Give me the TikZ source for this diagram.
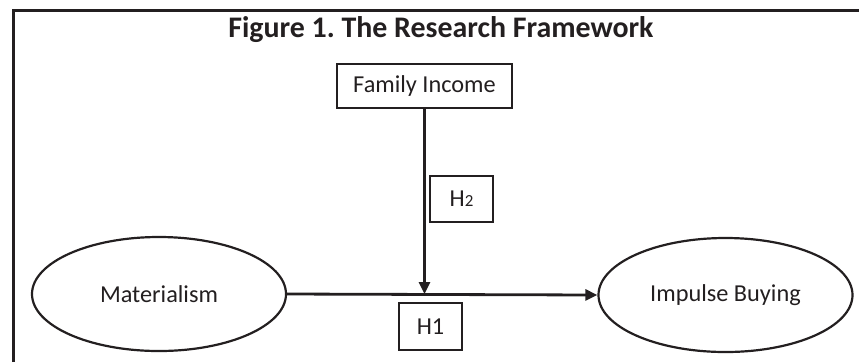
\documentclass[tikz,border=0pt]{standalone}
\usepackage{fontspec}
\setmainfont{Carlito}
\usepackage{tikz}
\usetikzlibrary{arrows.meta,shapes.geometric}
\definecolor{ink}{HTML}{231F20}
\frenchspacing

\begin{document}
\begin{tikzpicture}[x=0.5bp,y=-0.5bp,
        every node/.style={text=ink,font=\fontsize{12.2}{14}\selectfont},
        oval/.style={draw=ink,ellipse,line width=1.1bp,minimum width=127bp,minimum height=57bp},
        varbox/.style={draw=ink,rectangle,line width=1.1bp,inner sep=0pt},
        link/.style={draw=ink,line width=1.4bp,-{Triangle[length=6bp,width=5.5bp]}}]
        \useasboundingbox (0,0) rectangle (859,362);
        \draw[ink,line width=1.5bp] (13.5,362) |- (859,10.5);
        \node[font=\fontsize{15}{17}\selectfont\bfseries] (title) at (441,30) {Figure 1. The Research Framework};
        \node[varbox,minimum width=87.5bp,minimum height=22bp] (fam) at (424.5,86) {Family Income};
        \node[varbox,minimum width=31.5bp,minimum height=23bp] (htwo) at (461.5,199) {H{\fontsize{8.5}{10}\selectfont 2}};
        \node[varbox,minimum width=31.5bp,minimum height=23.5bp] (hone) at (430.5,326.5) {H1};
        \node[oval] (mat) at (159,294) {Materialism};
        \node[oval] (imp) at (725.5,295) {Impulse Buying};
        \coordinate (join) at (fam.south |- mat.east);
        \draw[link] (mat.east) -- (imp.west);
        \draw[link] (fam.south) -- (join);
    \end{tikzpicture}
\end{document}
